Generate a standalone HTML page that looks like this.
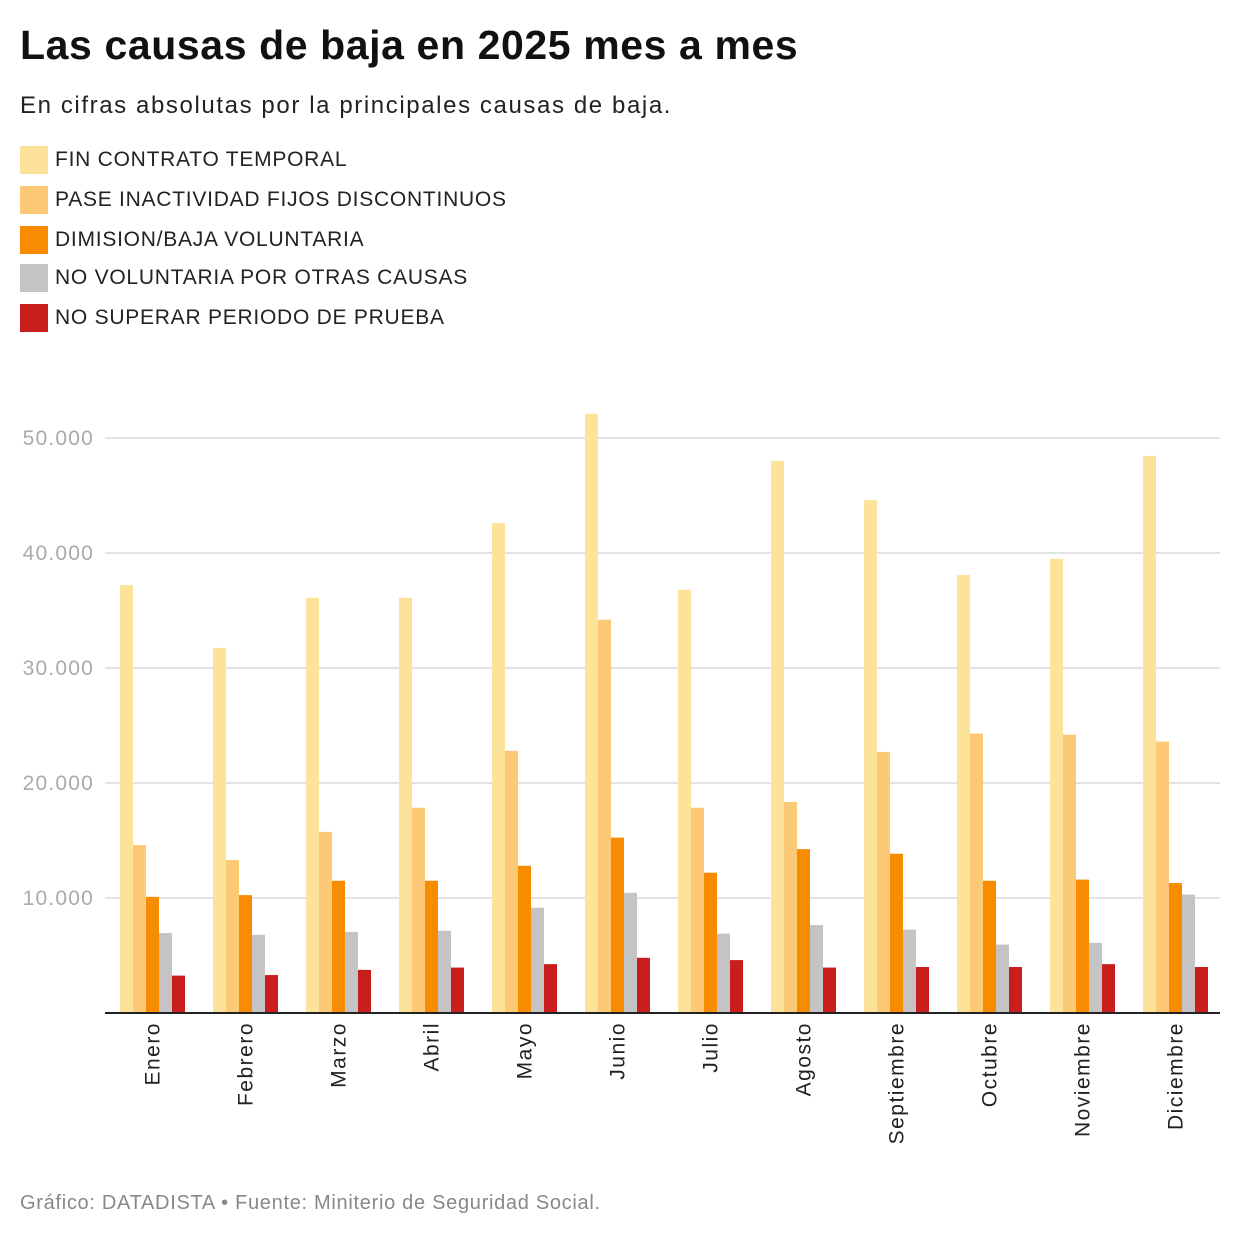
<!DOCTYPE html>
<html><head><meta charset="utf-8"><style>
body{margin:0;background:#fff;font-family:"Liberation Sans",Arial,sans-serif;}
#wrap{position:relative;width:1240px;height:1238px;overflow:hidden;}
h1{position:absolute;left:20px;top:22px;margin:0;font-size:41px;font-weight:bold;color:#111;letter-spacing:0.6px;}
.sub{position:absolute;left:20px;top:92px;font-size:24px;color:#222;letter-spacing:1.6px;}
.leg{position:absolute;left:20px;font-size:21px;color:#222;display:flex;align-items:center;letter-spacing:0.75px;}
.sw{width:28px;height:28px;margin-right:7px;}
.foot{position:absolute;left:20px;top:1192px;font-size:20px;color:#888;letter-spacing:0.7px;}
svg{position:absolute;left:0;top:0;}
</style></head><body>
<div id="wrap">
<h1>Las causas de baja en 2025 mes a mes</h1>
<div class="sub">En cifras absolutas por la principales causas de baja.</div>
<div class="leg" style="top:146px"><div class="sw" style="background:#fde29a"></div>FIN CONTRATO TEMPORAL</div>
<div class="leg" style="top:186px"><div class="sw" style="background:#fcc977"></div>PASE INACTIVIDAD FIJOS DISCONTINUOS</div>
<div class="leg" style="top:226px"><div class="sw" style="background:#f88c00"></div>DIMISION/BAJA VOLUNTARIA</div>
<div class="leg" style="top:264px"><div class="sw" style="background:#c4c4c4"></div>NO VOLUNTARIA POR OTRAS CAUSAS</div>
<div class="leg" style="top:304px"><div class="sw" style="background:#c81e1e"></div>NO SUPERAR PERIODO DE PRUEBA</div>
<svg id="chart" width="1240" height="1238"></svg>
<div class="foot">Gráfico: DATADISTA • Fuente: Miniterio de Seguridad Social.</div>
</div>
<script>
const months=["Enero","Febrero","Marzo","Abril","Mayo","Junio","Julio","Agosto","Septiembre","Octubre","Noviembre","Diciembre"];
const finContrato=[37200,31750,36100,36100,42600,52100,36800,48000,44600,38100,39500,48450];
const paseInactividad=[14600,13300,15750,17850,22800,34200,17850,18350,22700,24300,24200,23600];
const dimision=[10100,10250,11500,11500,12800,15250,12200,14250,13850,11500,11600,11300];
const noVoluntaria=[6950,6800,7050,7150,9150,10450,6900,7650,7250,5950,6100,10300];
const periodoPrueba=[3250,3300,3750,3950,4250,4800,4600,3950,4000,4000,4250,4000];
const ticks=[10000,20000,30000,40000,50000];
const tickLabels=["10.000","20.000","30.000","40.000","50.000"];
const series=[finContrato,paseInactividad,dimision,noVoluntaria,periodoPrueba];
const colors=["#fde29a","#fcc977","#f88c00","#c4c4c4","#c81e1e"];
const names=["fin-contrato","pase-inactividad","dimision","no-voluntaria","periodo-prueba"];
const svg=document.getElementById('chart');
const NS="http://www.w3.org/2000/svg";
const y0=1013,pxPer=115/10000,x0=105,groupW=93,barW=13,off=15;
const yS=v=>y0-v*pxPer;
const xS=i=>x0+i*groupW;
function mk(t,a){const e=document.createElementNS(NS,t);for(const k in a)e.setAttribute(k,a[k]);svg.appendChild(e);return e;}
ticks.forEach((t,i)=>{
  const g=mk('line',{x1:105,x2:1220,y1:yS(t),y2:yS(t),stroke:'#e3e3e3','stroke-width':2});
  
  
  const l=mk('text',{x:94,y:yS(t)+7,'text-anchor':'end','font-size':21,'letter-spacing':'1.2',fill:'#aaa','font-family':'Liberation Sans, sans-serif'});
  l.textContent=tickLabels[i];
  
  
});
months.forEach((m,i)=>{
  series.forEach((s,j)=>{
    const r=mk('rect',{x:xS(i)+off+j*barW,y:yS(s[i]),width:barW,height:y0-yS(s[i]),fill:colors[j]});
    
    
  });
  const cx=xS(i)+off+2.5*barW+7;
  const t=mk('text',{x:cx,y:1022,'text-anchor':'end','font-size':21,'letter-spacing':'1.5',fill:'#222','font-family':'Liberation Sans, sans-serif',transform:'rotate(-90 '+cx+' 1022)'});
  t.textContent=m;
  
  
});
const ax=mk('line',{x1:105,x2:1220,y1:y0,y2:y0,stroke:'#222','stroke-width':2});


</script>
</body></html>
